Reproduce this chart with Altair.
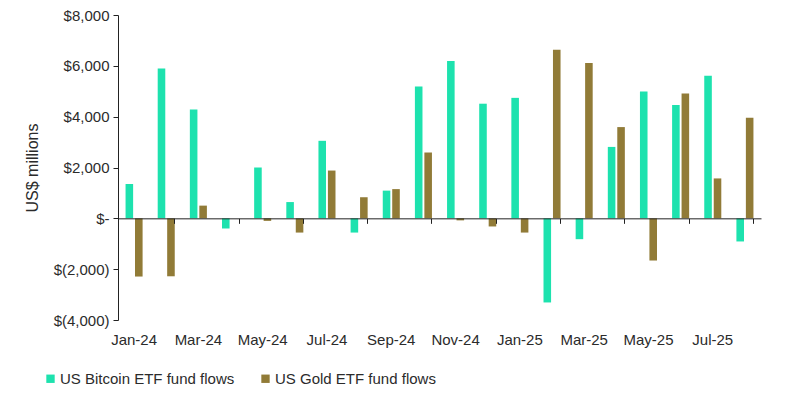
import altair as alt
import pandas as pd

months = ["Jan-24", "Feb-24", "Mar-24", "Apr-24", "May-24", "Jun-24", "Jul-24", "Aug-24",
          "Sep-24", "Oct-24", "Nov-24", "Dec-24", "Jan-25", "Feb-25", "Mar-25", "Apr-25",
          "May-25", "Jun-25", "Jul-25", "Aug-25"]
bitcoin = [1350, 5900, 4280, -400, 2000, 640, 3050, -560, 1090, 5190,
           6190, 4510, 4740, -3310, -820, 2810, 4990, 4460, 5610, -910]
gold = [-2290, -2280, 500, 0, -100, -560, 1880, 830, 1150, 2590,
        -80, -320, -560, 6630, 6110, 3590, -1660, 4910, 1570, 3960]
series_names = ["US Bitcoin ETF fund flows", "US Gold ETF fund flows"]
series_colors = ["#1DE2AE", "#917B37"]
y_ticks = [-4000, -2000, 0, 2000, 4000, 6000, 8000]
label_months = months[0::2]
tick_months = months[1::2]

rows = []
for m, b, g in zip(months, bitcoin, gold):
    rows.append({"month": m, "series": series_names[0], "value": b})
    rows.append({"month": m, "series": series_names[1], "value": g})
df = pd.DataFrame(rows)

W, H = 643, 305
ymin, ymax = y_ticks[0], y_ticks[-1]
zero_offset = -H * (0 - ymin) / (ymax - ymin)

FONT = "Liberation Sans"
TXT = "#2b2b2b"
AXC = "#222222"
FS = 15

x_scale = alt.Scale(domain=months, paddingInner=0.47, paddingOuter=0.235)

y_enc = alt.Y(
    "value:Q",
    scale=alt.Scale(domain=[ymin, ymax], nice=False),
    axis=alt.Axis(
        values=y_ticks,
        title="US$ millions",
        titleFontWeight="normal",
        titleFontSize=16,
        titleColor=TXT,
        titleX=-78,
        titleY=H / 2,
        labelExpr="datum.value == 0 ? '$-' : (datum.value < 0 ? '$(' + format(-datum.value, ',') + ')' : '$' + format(datum.value, ','))",
        labelFontSize=FS,
        labelColor=TXT,
        labelPadding=4,
        tickSize=5,
        tickColor=AXC,
        domainColor=AXC,
        grid=False,
    ),
)

bars = alt.Chart(df).mark_bar().encode(
    x=alt.X(
        "month:N",
        sort=months,
        scale=x_scale,
        axis=alt.Axis(
            values=label_months,
            title=None,
            domain=False,
            ticks=False,
            labelAngle=0,
            labelFontSize=FS,
            labelColor=TXT,
            labelPadding=12,
            grid=False,
        ),
    ),
    xOffset=alt.XOffset("series:N", sort=series_names,
                        scale=alt.Scale(paddingInner=0.2, paddingOuter=0)),
    y=y_enc,
    color=alt.Color(
        "series:N",
        sort=series_names,
        scale=alt.Scale(domain=series_names, range=series_colors),
        legend=alt.Legend(
            title=None,
            orient="none",
            direction="horizontal",
            legendX=-75,
            legendY=356,
            symbolType="square",
            symbolSize=70,
            symbolStrokeWidth=0,
            labelFontSize=FS,
            labelColor=TXT,
            labelOffset=2,
            labelLimit=400,
            columnPadding=23,
            padding=0,
        ),
    ),
)

zero_axis = alt.Chart(df).mark_bar(opacity=0).encode(
    x=alt.X(
        "month:N",
        sort=months,
        scale=x_scale,
        axis=alt.Axis(
            values=tick_months,
            bandPosition=1,
            title=None,
            labels=False,
            domain=True,
            domainColor=AXC,
            domainWidth=1,
            ticks=True,
            tickSize=5,
            tickColor=AXC,
            offset=zero_offset,
            orient="bottom",
            grid=False,
            zindex=1,
        ),
    ),
    y=y_enc,
)

chart = alt.layer(bars, zero_axis).resolve_axis(x="independent").properties(
    width=W,
    height=H,
    autosize=alt.AutoSizeParams(type="none"),
    padding={"left": 110, "top": 7, "right": 30, "bottom": 70},
).configure(font=FONT).configure_view(stroke=None)

chart.save("out.html", embed_options={"renderer": "svg", "actions": False})
